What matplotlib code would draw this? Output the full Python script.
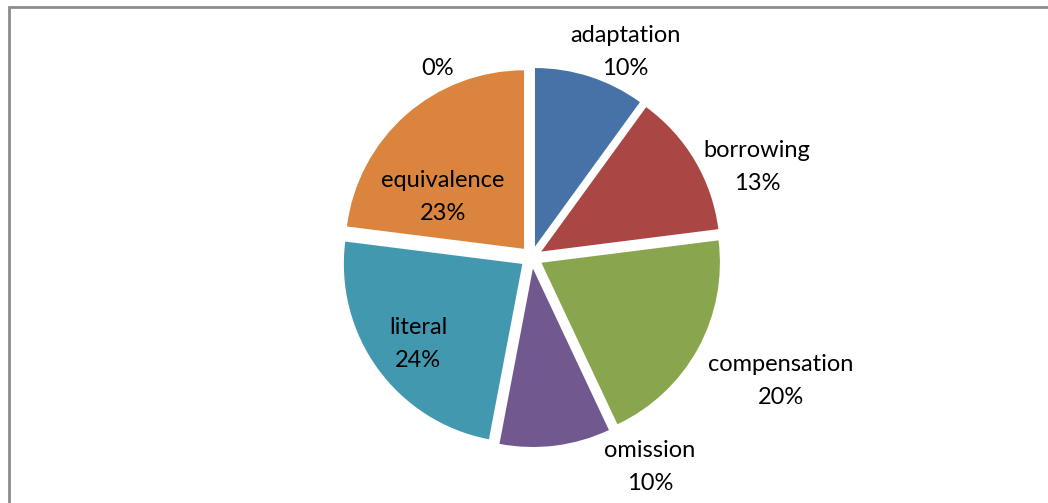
import matplotlib
matplotlib.use("Agg")
import matplotlib.pyplot as plt

W, H = 1048, 503

names = ["adaptation", "borrowing", "compensation", "omission", "literal", "equivalence", ""]
values = [10, 13, 20, 10, 24, 23, 0]
colors = ["#4672A8", "#AA4644", "#89A54E", "#71588F", "#4298AF", "#DB843D", "#93A9CF"]

# where each label block sits (pixels, from top-left)
label_pos = [(625, 52), (757, 167), (781, 381), (650, 467), (418, 344), (443, 197), (438, 68)]

plt.rcParams['font.family'] = ['Lato', 'DejaVu Sans']

fig = plt.figure(figsize=(W/100, H/100), dpi=100)
ax = fig.add_axes([0, 0, 1, 1])

# pie explode is in data units here (pixels)
cx, cy, R = 531.5, H - 257.3, 178.5
wedges, texts = ax.pie(values, colors=colors, startangle=90, counterclock=False,
                       radius=R, center=(cx, cy), explode=[11.3]*len(values),
                       wedgeprops=dict(linewidth=0))

for t in texts:
  t.set_visible(False)

for name, v, (x, y) in zip(names, values, label_pos):
  s = "%d%%" % v if not name else "%s\n%d%%" % (name, v)
  ax.text(x, H - y, s, ha="center", va="center", fontsize=17,
          linespacing=1.68, color="black")

# chart frame (only the top and left edges show)
ax.plot([9, 9, W], [0, H - 7, H - 7], color="#8c8c8c", lw=2, clip_on=False,
        solid_joinstyle="miter")

ax.set_xlim(0, W)
ax.set_ylim(0, H)
ax.set_aspect("equal")
ax.axis("off")
fig.savefig("out.png", dpi=100)
